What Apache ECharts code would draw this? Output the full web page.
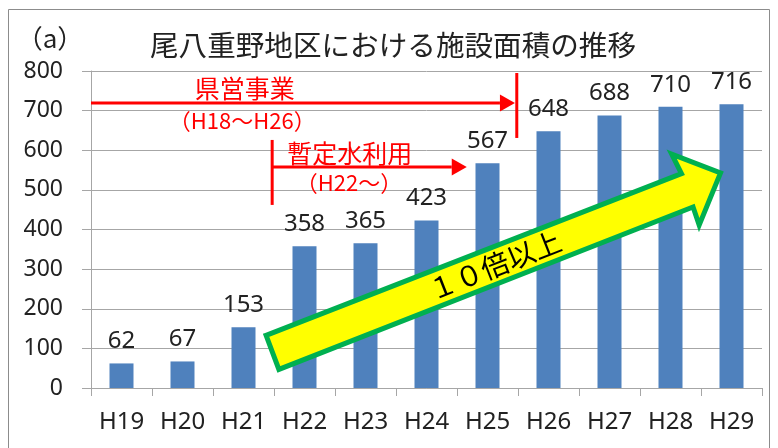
<!DOCTYPE html>
<html><head><meta charset="utf-8">
<script src="https://cdn.jsdelivr.net/npm/echarts@6/dist/echarts.min.js"></script>
<style>html,body{margin:0;padding:0;background:#fff}#c{width:778px;height:448px}</style>
</head><body><div id="c"></div>
<script>
// ---- data ----
const categories = ['H19','H20','H21','H22','H23','H24','H25','H26','H27','H28','H29'];
const areaValues = [62, 67, 153, 358, 365, 423, 567, 648, 688, 710, 716];
const yMin = 0, yMax = 800, yInterval = 100;

// ---- texts ----
const titleText = '尾八重野地区における施設面積の推移';
const panelLabel = '（a）';
const prefText = '県営事業';
const prefPeriod = '（H18～H26）';
const tempText = '暫定水利用';
const tempPeriod = '（H22～）';
const growthText = '１０倍以上';

// ---- annotation anchors in data units: [category index (fractional), value] ----
const prefLine = [[-0.5, 719], [6.45, 719]];
const prefBar = [[6.48, 795], [6.48, 631]];
const prefTextPos = [2.02, 755];
const prefPeriodPos = [1.98, 674];
const tempLine = [[2.47, 558], [5.66, 558]];
const tempBar = [[2.47, 626], [2.47, 462]];
const tempTextPos = [3.74, 593];
const tempPeriodPos = [3.73, 517];
const growthArrow = [[2.37, 133], [9.18, 541], [9.02, 590], [9.82, 543], [9.47, 411], [9.37, 457], [2.58, 47]];
const growthTextPos = [6.12, 310];

const chart = echarts.init(document.getElementById('c'));
const numFont = 'Noto Sans';
const jpFont = 'Noto Sans CJK JP';
const txt = '#222';
const gridC = '#a6a6a6';

chart.setOption({
  animation: false,
  backgroundColor: '#fff',
  grid: { left: 91, right: 16, top: 71, bottom: 60 },
  xAxis: {
    type: 'category', data: categories,
    axisLine: { lineStyle: { color: gridC, width: 1 } },
    axisTick: { show: true, length: 8, lineStyle: { color: gridC } },
    axisLabel: { fontSize: 24, color: txt, margin: 22, fontFamily: numFont }
  },
  yAxis: {
    type: 'value', min: yMin, max: yMax, interval: yInterval,
    axisLine: { show: true, lineStyle: { color: gridC } },
    axisTick: { show: true, length: 9, lineStyle: { color: gridC } },
    splitLine: { lineStyle: { color: gridC, width: 1 } },
    axisLabel: { fontSize: 23, color: txt, margin: 28, fontFamily: numFont }
  },
  series: [{
    type: 'bar', data: areaValues, barWidth: 24,
    itemStyle: { color: '#4f81bd' },
    label: { show: true, position: 'top', distance: 10, fontSize: 24, color: txt, fontFamily: numFont }
  }]
});

const x0 = chart.convertToPixel({ xAxisIndex: 0 }, categories[0]);
const x1 = chart.convertToPixel({ xAxisIndex: 0 }, categories[1]);
function P(pt) {
  return [x0 + pt[0] * (x1 - x0), chart.convertToPixel({ yAxisIndex: 0 }, pt[1])];
}
const red = '#ff0000';
function redLine(a, b) {
  const p = P(a), q = P(b);
  return { type: 'line', z: 120, shape: { x1: p[0], y1: p[1], x2: q[0], y2: q[1] }, style: { stroke: red, lineWidth: 3 } };
}
function redHead(tip) {
  const t = P(tip);
  return { type: 'polygon', z: 121, shape: { points: [[t[0], t[1]], [t[0] - 15, t[1] - 8.5], [t[0] - 15, t[1] + 8.5]] }, style: { fill: red } };
}
function label(pos, text, size, color, font) {
  const p = P(pos);
  return { type: 'text', z: 122, x: p[0], y: p[1], style: { text: text, fill: color, fontSize: size, fontFamily: font, align: 'center', verticalAlign: 'middle' } };
}
const lineEnd1 = [prefLine[1][0] - 15 / (x1 - x0), prefLine[1][1]];
const lineEnd2 = [tempLine[1][0] - 15 / (x1 - x0), tempLine[1][1]];
const gt = P(growthTextPos);

chart.setOption({
  graphic: [
    { type: 'rect', z: 1, shape: { x: 8.5, y: 9.5, width: 761, height: 470 }, style: { fill: 'none', stroke: '#8c8c8c', lineWidth: 1 } },
    { type: 'text', z: 122, x: 50, y: 38, style: { text: panelLabel, fontSize: 26, fill: txt, fontFamily: jpFont, align: 'center', verticalAlign: 'middle' } },
    { type: 'text', z: 122, x: 393, y: 45, style: { text: titleText, fontSize: 28.6, fill: txt, fontFamily: jpFont, align: 'center', verticalAlign: 'middle' } },
    { type: 'polygon', z: 110, shape: { points: growthArrow.map(P) }, style: { fill: '#ffff00', stroke: '#00b050', lineWidth: 5, lineJoin: 'miter' } },
    { type: 'text', z: 111, x: gt[0], y: gt[1], rotation: 21.5 * Math.PI / 180, style: { text: growthText, fontSize: 28, fill: '#000', fontFamily: jpFont, align: 'center', verticalAlign: 'middle' } },
    redLine(prefLine[0], lineEnd1), redHead(prefLine[1]), redLine(prefBar[0], prefBar[1]),
    redLine(tempLine[0], lineEnd2), redHead(tempLine[1]), redLine(tempBar[0], tempBar[1]),
    label(prefTextPos, prefText, 25, red, jpFont),
    label(prefPeriodPos, prefPeriod, 22, red, jpFont),
    label(tempTextPos, tempText, 25, red, jpFont),
    label(tempPeriodPos, tempPeriod, 22, red, jpFont)
  ]
});
</script></body></html>
